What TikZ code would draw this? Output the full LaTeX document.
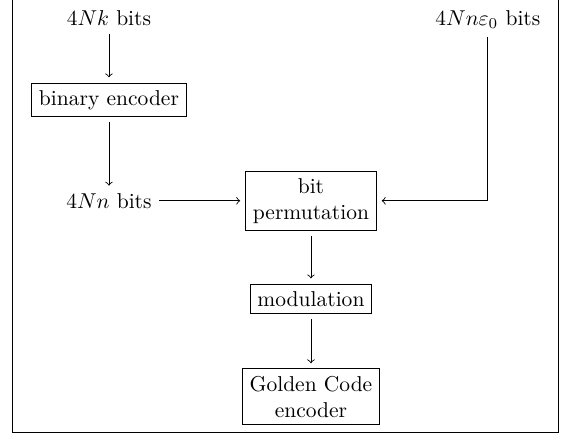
\documentclass[tikz,border=0pt]{standalone}
\usepackage{amsmath, amsfonts}
\usepackage{tikz}

\begin{document}
\begin{tikzpicture}[
    blk/.style={draw, align=center, outer sep=2.6pt},
    lbl/.style={inner sep=3.33pt},
    >=to]
    \useasboundingbox (-5.08,-3.84) rectangle (4.15,3.28);
    % frame (its top edge lies above the picture)
    \draw (-4.87,3.28) -- (-4.87,-3.79) -- (4.05,-3.79) -- (4.05,3.28);

    \node[lbl, anchor=base] (ink) at (-3.30,2.86) {$4Nk$ bits};
    \node[lbl, anchor=base] (ine) at (2.89,2.86) {$4Nn\varepsilon_0$ bits};
    \node[blk] (enc) at (-3.30,1.65) {binary encoder};
    \node[lbl] (inn) at (-3.30,0) {$4Nn$ bits};
    \node[blk] (perm) at (0,0) {bit\\permutation};
    \node[blk] (mod) at (0,-1.60) {modulation};
    \node[blk] (gc) at (0,-3.20) {Golden Code\\encoder};
    \coordinate (knee) at (ine |- perm);

    \draw[->] (ink) -- (enc);
    \draw[->] (enc) -- (inn);
    \draw[->] (inn) -- (perm);
    \draw[->] (ine) -- (knee) -- (perm);
    \draw[->] (perm) -- (mod);
    \draw[->] (mod) -- (gc);
\end{tikzpicture}
\end{document}
